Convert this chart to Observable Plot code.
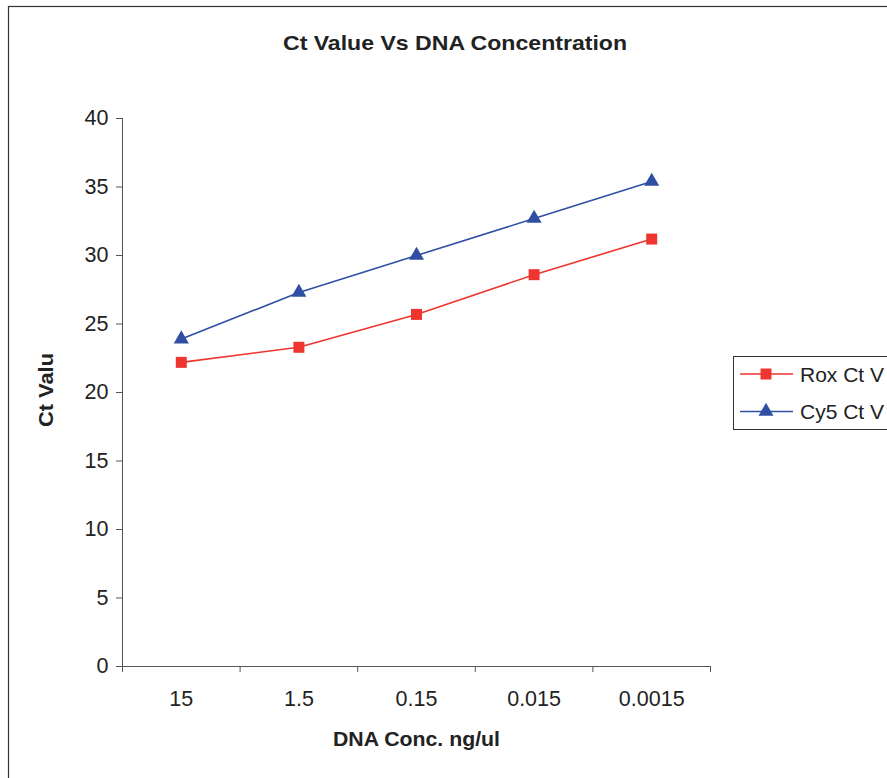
<!DOCTYPE html>
<html>
<head>
<meta charset="utf-8">
<script src="https://cdn.jsdelivr.net/npm/d3@7"></script>
<script src="https://cdn.jsdelivr.net/npm/@observablehq/plot@0.6"></script>
<style>
  html, body { margin: 0; padding: 0; background: #fff; }
  #chart { width: 887px; height: 778px; overflow: hidden; }
</style>
</head>
<body>
<div id="chart"></div>
<script>
const categories = ["15", "1.5", "0.15", "0.015", "0.0015"];
const roxValues = [22.2, 23.3, 25.7, 28.6, 31.2];
const cy5Values = [23.9, 27.3, 30.0, 32.7, 35.4];
const seriesNames = ["Rox Ct V", "Cy5 Ct V"];
const yTicks = [0, 5, 10, 15, 20, 25, 30, 35, 40];
const titleText = "Ct Value Vs DNA Concentration";
const xTitle = "DNA Conc. ng/ul";
const yTitle = "Ct Valu";

const colors = ["#ee3530", "#2f4fa2"];

const rows = [];
categories.forEach((c, i) => {
  rows.push({series: seriesNames[0], i, value: roxValues[i]});
  rows.push({series: seriesNames[1], i, value: cy5Values[i]});
});
const boundaries = d3.range(categories.length + 1).map(k => k - 0.5);
const font = "'Liberation Sans', Arial, Helvetica, sans-serif";

const plot = Plot.plot({
  width: 887,
  height: 778,
  marginLeft: 122,
  marginRight: 177,
  marginTop: 118,
  marginBottom: 112,
  style: {fontFamily: font, fontSize: "21px", color: "#222", background: "#fff"},
  x: {type: "linear", domain: [-0.5, categories.length - 0.5]},
  y: {domain: [0, 40]},
  marks: [
    Plot.ruleX([-0.5], {stroke: "#555", strokeWidth: 1}),
    Plot.ruleY([0], {stroke: "#555", strokeWidth: 1}),
    Plot.axisY({ticks: yTicks, tickSize: 6, tickPadding: 8, label: null, fontSize: 21.5, stroke: "#555"}),
    Plot.axisX({ticks: boundaries, tickSize: 6, tickFormat: () => "", label: null, stroke: "#555"}),
    Plot.axisX({ticks: d3.range(categories.length), tickSize: 0, tickPadding: 24, tickFormat: i => categories[i], label: null, fontSize: 21.5}),
    Plot.line(rows.filter(d => d.series === seriesNames[0]), {x: "i", y: "value", stroke: colors[0], strokeWidth: 1.6}),
    Plot.line(rows.filter(d => d.series === seriesNames[1]), {x: "i", y: "value", stroke: colors[1], strokeWidth: 1.6}),
    Plot.dot(rows.filter(d => d.series === seriesNames[0]), {x: "i", y: "value", symbol: "square", r: 6.2, fill: colors[0], stroke: "none"}),
    Plot.dot(rows.filter(d => d.series === seriesNames[1]), {x: "i", y: "value", symbol: "triangle", r: 5.6, fill: colors[1], stroke: "none"})
  ]
});

document.getElementById("chart").appendChild(plot);
const svg = d3.select(plot);

// outer chart-area border
svg.insert("rect", ":first-child")
  .attr("x", 8.5).attr("y", 6.5).attr("width", 900).attr("height", 800)
  .attr("fill", "none").attr("stroke", "#333").attr("stroke-width", 1.2);

function label(text, x, y, size, len, rotate) {
  const t = svg.append("text").text(text)
    .attr("text-anchor", "middle")
    .attr("font-weight", "bold").attr("font-size", size)
    .attr("fill", "#222").attr("font-family", font)
    .attr("textLength", len).attr("lengthAdjust", "spacingAndGlyphs");
  if (rotate) t.attr("transform", `translate(${x},${y}) rotate(-90)`);
  else t.attr("x", x).attr("y", y);
  return t;
}

label(titleText, 455, 50, 21, 344, false);
label(xTitle, 416.5, 746, 19.5, 167, false);
label(yTitle, 53, 390, 19.5, 74, true);

// legend
const lg = svg.append("g");
lg.append("rect").attr("x", 733.5).attr("y", 356.5).attr("width", 200).attr("height", 73)
  .attr("fill", "#fff").attr("stroke", "#333").attr("stroke-width", 1);
seriesNames.forEach((name, k) => {
  const cy = 374 + k * 37.5;
  lg.append("line").attr("x1", 740).attr("x2", 793).attr("y1", cy).attr("y2", cy)
    .attr("stroke", colors[k]).attr("stroke-width", 1.6);
  const sym = k === 0 ? d3.symbolSquare : d3.symbolTriangle;
  const r = k === 0 ? 6.2 : 5.6;
  lg.append("path").attr("d", d3.symbol(sym, Math.PI * r * r)())
    .attr("transform", `translate(766,${cy})`).attr("fill", colors[k]);
  lg.append("text").text(name).attr("x", 800).attr("y", cy + 7.5)
    .attr("text-anchor", "start")
    .attr("font-size", 21).attr("fill", "#222").attr("font-family", font);
});
</script>
</body>
</html>
